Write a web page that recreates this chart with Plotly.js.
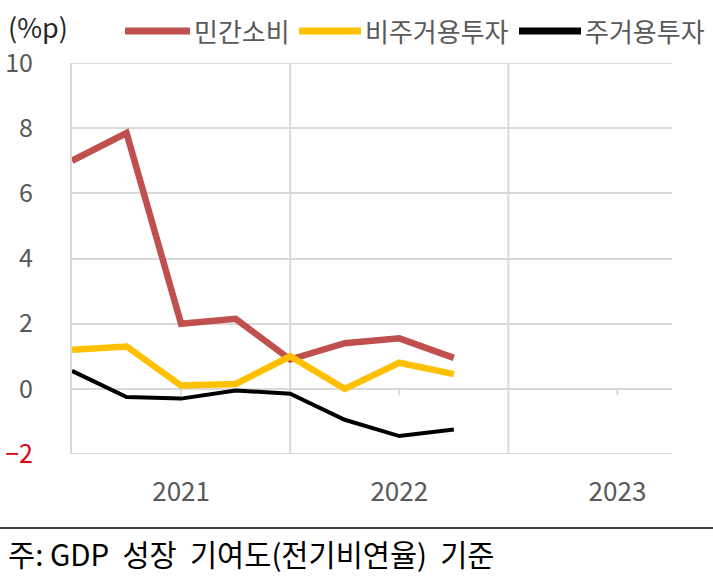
<!DOCTYPE html>
<html>
<head>
<meta charset="utf-8">
<script src="https://cdn.plot.ly/plotly-3.0.1.min.js"></script>
<style>
  body { margin: 0; background: #fff; }
  #chart { width: 713px; height: 579px; }
</style>
</head>
<body>
<div id="chart"></div>
<script>
// quarters 2021Q1 .. 2022Q4 on a 0..11 quarter axis
let quarters = [0, 1, 2, 3, 4, 5, 6, 7];
let privateConsumption = [7.0, 7.85, 2.0, 2.15, 0.9, 1.4, 1.55, 0.95];
let nonResidentialInvest = [1.2, 1.3, 0.1, 0.15, 1.0, 0.0, 0.8, 0.45];
let residentialInvest = [0.55, -0.25, -0.3, -0.05, -0.15, -0.95, -1.45, -1.25];

let yearTicks = [2, 6, 10];
let yearLabels = ['2021', '2022', '2023'];
let yearBounds = [4, 8];
let yTicks = [-2, 0, 2, 4, 6, 8, 10];
let yLabels = ['<span style="color:#E0000B">\u22122</span>', '0', '2', '4', '6', '8', '10'];

let seriesNames = ['민간소비', '비주거용투자', '주거용투자'];
let colors = ['#C0504D', '#FFC000', '#000000'];
let widths = [6.5, 6.5, 4];

const font = '"Noto Sans CJK KR", "Noto Sans", sans-serif';
const gridColor = '#D9D9D9';
const textGray = '#595959';

let seriesValues = [privateConsumption, nonResidentialInvest, residentialInvest];
let data = seriesValues.map(function(vals, k) {
    return {
        type: 'scatter',
        mode: 'lines',
        x: quarters,
        y: vals,
        name: seriesNames[k],
        line: {color: colors[k], width: widths[k]},
        showlegend: false,
        hoverinfo: 'skip'
    };
});

// plot area in px: left 72, right 672, top 63, bottom 454
function px(x) { return (x - 72) / 600; }
function py(y) { return (454 - y) / 391; }

let shapes = [];
let annotations = [];

// year boundary grid lines
yearBounds.forEach(function(b) {
    shapes.push({type: 'line', xref: 'x', yref: 'paper', x0: b, x1: b, y0: 0, y1: 1,
        line: {color: gridColor, width: 2}, layer: 'below'});
});
// top and bottom grid lines (plotly skips them at the range edge)
[yTicks[0], yTicks[yTicks.length - 1]].forEach(function(v) {
    shapes.push({type: 'line', xref: 'paper', yref: 'y', x0: 0, x1: 1, y0: v, y1: v,
        line: {color: gridColor, width: 2}, layer: 'below'});
});
// small tick marks on the zero line
yearTicks.forEach(function(t) {
    shapes.push({type: 'line', xref: 'x', yref: 'y', x0: t, x1: t, y0: 0, y1: -0.2,
        line: {color: gridColor, width: 2}, layer: 'below'});
});

// legend drawn by hand
let legendLines = [[125, 190], [299, 361], [519, 581]];
legendLines.forEach(function(seg, k) {
    shapes.push({type: 'line', xref: 'paper', yref: 'paper',
        x0: px(seg[0]), x1: px(seg[1]), y0: py(31), y1: py(31),
        line: {color: colors[k], width: 7}});
    annotations.push({xref: 'paper', yref: 'paper', x: px(seg[1] + 2), y: py(31),
        xanchor: 'left', yanchor: 'middle', showarrow: false, text: seriesNames[k],
        font: {family: font, size: 26, color: textGray}});
});

// unit label
annotations.push({xref: 'paper', yref: 'paper', x: px(6), y: py(27),
    xanchor: 'left', yanchor: 'middle', showarrow: false, text: '(%p)',
    font: {family: font, size: 27, color: '#262626'}});

// footnote rule and text
shapes.push({type: 'line', xref: 'paper', yref: 'paper', x0: px(0), x1: px(713),
    y0: py(528), y1: py(528), line: {color: '#000', width: 1.5}});
annotations.push({xref: 'paper', yref: 'paper', x: px(6), y: py(553),
    xanchor: 'left', yanchor: 'middle', showarrow: false,
    text: '주: GDP  성장  기여도(전기비연율)  기준',
    font: {family: font, size: 29.5, color: '#000'}});

let layout = {
    width: 713,
    height: 579,
    margin: {l: 72, r: 41, t: 63, b: 125},
    paper_bgcolor: '#fff',
    plot_bgcolor: '#fff',
    showlegend: false,
    xaxis: {
        range: [0, 11],
        tickvals: yearTicks,
        ticktext: yearLabels,
        showgrid: false,
        zeroline: false,
        showline: false,
        ticks: '',
        ticklabelstandoff: 20,
        tickfont: {family: font, size: 26, color: textGray},
        fixedrange: true
    },
    yaxis: {
        range: [-2, 10],
        tickvals: yTicks,
        ticktext: yLabels,
        showgrid: true,
        gridcolor: gridColor,
        gridwidth: 2,
        zeroline: false,
        showline: true,
        linecolor: gridColor,
        linewidth: 2,
        ticks: '',
        ticklabelstandoff: 32,
        tickfont: {family: font, size: 25, color: textGray},
        fixedrange: true
    },
    shapes: shapes,
    annotations: annotations
};

Plotly.newPlot('chart', data, layout, {displayModeBar: false, staticPlot: true});
</script>
</body>
</html>
